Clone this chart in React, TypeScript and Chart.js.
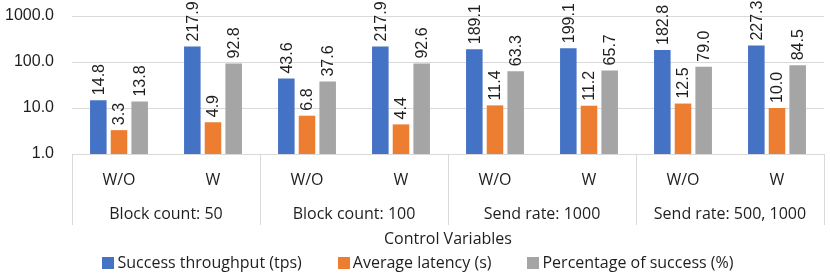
import React, { useEffect, useRef } from "react";
import { Chart, registerables } from "chart.js";

Chart.register(...registerables);

const subLabels = ["W/O", "W", "W/O", "W", "W/O", "W", "W/O", "W"];
const groupLabels = ["Block count: 50", "Block count: 100", "Send rate: 1000", "Send rate: 500, 1000"];
const throughput = [14.8, 217.9, 43.6, 217.9, 189.1, 199.1, 182.8, 227.3];
const latency = [3.3, 4.9, 6.8, 4.4, 11.4, 11.2, 12.5, 10.0];
const success = [13.8, 92.8, 37.6, 92.6, 63.3, 65.7, 79.0, 84.5];
const yTicks = [1, 10, 100, 1000];
const seriesNames = ["Success throughput (tps)", "Average latency (s)", "Percentage of success (%)"];
const seriesColors = ["#4472c4", "#ed7d31", "#a5a5a5"];
const axisTitle = "Control Variables";

const CAT_FONT = "16px 'Open Sans'";
const NUM_FONT = "16px 'Liberation Sans'";
const TEXT_COLOR = "#1e1e1e";
const LINE_COLOR = "#d9d9d9";

const decorPlugin = {
  id: "decor",
  afterDatasetsDraw(chart: any) {
    const ctx = chart.ctx;
    ctx.save();
    ctx.font = NUM_FONT;
    ctx.fillStyle = TEXT_COLOR;
    ctx.textAlign = "left";
    ctx.textBaseline = "middle";
    chart.data.datasets.forEach((ds: any, di: number) => {
      const meta = chart.getDatasetMeta(di);
      meta.data.forEach((el: any, i: number) => {
        const v = ds.data[i];
        ctx.save();
        ctx.translate(el.x + 1, el.y - 5);
        ctx.rotate(-Math.PI / 2);
        ctx.fillText(v.toFixed(1), 0, 0);
        ctx.restore();
      });
    });
    ctx.restore();
  },
  afterDraw(chart: any) {
    const ctx = chart.ctx;
    const xs = chart.scales.x;
    const area = chart.chartArea;
    ctx.save();
    const bounds: number[] = [xs.left];
    for (let g = 1; g < groupLabels.length; g++) {
      bounds.push((xs.getPixelForTick(g * 2 - 1) + xs.getPixelForTick(g * 2)) / 2);
    }
    bounds.push(xs.right);
    ctx.strokeStyle = LINE_COLOR;
    ctx.lineWidth = 1;
    bounds.forEach((b) => {
      const x = Math.round(b) + 0.5;
      ctx.beginPath();
      ctx.moveTo(x, area.bottom);
      ctx.lineTo(x, 225);
      ctx.stroke();
    });
    ctx.font = CAT_FONT;
    ctx.fillStyle = TEXT_COLOR;
    ctx.textAlign = "center";
    ctx.textBaseline = "middle";
    groupLabels.forEach((g, i) => {
      ctx.fillText(g, (bounds[i] + bounds[i + 1]) / 2, 214);
    });
    const box = 12;
    const gap = 3;
    const spacing = 36;
    const widths = seriesNames.map((n) => ctx.measureText(n).width);
    const total = widths.reduce((a, w) => a + box + gap + w, 0) + spacing * (seriesNames.length - 1);
    let x = 418 - total / 2;
    const cy = 263;
    ctx.textAlign = "left";
    seriesNames.forEach((n, i) => {
      ctx.fillStyle = seriesColors[i];
      ctx.fillRect(Math.round(x), cy - 6, box, box);
      ctx.fillStyle = TEXT_COLOR;
      ctx.fillText(n, x + box + gap, cy);
      x += box + gap + widths[i] + spacing;
    });
    ctx.restore();
  },
};

export default function App() {
  const ref = useRef<HTMLCanvasElement | null>(null);
  useEffect(() => {
    document.body.style.margin = "0";
    if (!ref.current) return;
    const chart = new Chart(ref.current, {
      type: "bar",
      data: {
        labels: subLabels,
        datasets: [
          { label: seriesNames[0], data: throughput, backgroundColor: seriesColors[0] },
          { label: seriesNames[1], data: latency, backgroundColor: seriesColors[1] },
          { label: seriesNames[2], data: success, backgroundColor: seriesColors[2] },
        ],
      },
      options: {
        responsive: false,
        animation: false,
        layout: { padding: { top: 16, right: 6, bottom: 28, left: 0 } },
        datasets: { bar: { categoryPercentage: 0.66, barPercentage: 0.8 } },
        plugins: { legend: { display: false }, tooltip: { enabled: false } },
        scales: {
          x: {
            grid: { display: false },
            border: { display: true, color: LINE_COLOR },
            ticks: { color: TEXT_COLOR, font: { family: "Open Sans", size: 16 }, padding: 9, maxRotation: 0 },
            title: {
              display: true,
              text: axisTitle,
              color: TEXT_COLOR,
              font: { family: "Open Sans", size: 16 },
              padding: { top: 0, bottom: 1 },
            },
            afterFit(scale: any) {
              scale.height = 96;
            },
          },
          y: {
            type: "logarithmic",
            min: 1,
            max: 1000,
            grid: { color: LINE_COLOR, drawTicks: true, tickLength: 18, tickColor: "rgba(0,0,0,0)" },
            border: { display: false },
            ticks: {
              color: TEXT_COLOR,
              font: { family: "Liberation Sans", size: 16 },
              padding: 0,
              callback: (v: any) => Number(v).toFixed(1),
            },
            afterBuildTicks(scale: any) {
              scale.ticks = yTicks.map((v) => ({ value: v }));
            },
            afterFit(scale: any) {
              scale.width = 72;
            },
          },
        },
      },
      plugins: [decorPlugin],
    });
    return () => chart.destroy();
  }, []);
  return (
    <div style={{ width: 830, height: 278 }}>
      <canvas ref={ref} width={830} height={278} style={{ width: 830, height: 278, display: "block" }} />
    </div>
  );
}
